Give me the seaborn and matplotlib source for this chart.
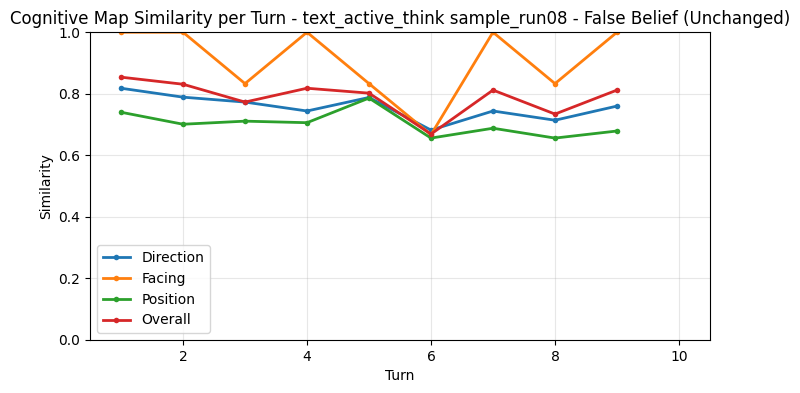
import matplotlib
matplotlib.use("Agg")
import matplotlib.pyplot as plt
import numpy as np
import pandas as pd
import seaborn as sns

# Data
turns = [1, 2, 3, 4, 5, 6, 7, 8, 9]
direction = [0.818, 0.789, 0.773, 0.744, 0.788, 0.682, 0.744, 0.714, 0.760]
facing = [1.0, 1.0, 0.833, 1.0, 0.833, 0.667, 1.0, 0.833, 1.0]
position = [0.740, 0.701, 0.711, 0.706, 0.786, 0.656, 0.688, 0.656, 0.679]
overall = [0.854, 0.831, 0.773, 0.818, 0.802, 0.669, 0.812, 0.734, 0.812]

series = {"Direction": direction, "Facing": facing, "Position": position, "Overall": overall}
df = pd.DataFrame([
    {"Turn": t, "Similarity": v, "Metric": name}
    for name, vals in series.items()
    for t, v in zip(turns, vals)
])

fig, ax = plt.subplots(figsize=(8, 3.93), dpi=100)
fig.subplots_adjust(left=0.1125, right=0.8875, top=0.918, bottom=0.135)

sns.lineplot(data=df, x="Turn", y="Similarity", hue="Metric",
             palette=["#1f77b4", "#ff7f0e", "#2ca02c", "#d62728"],
             marker="o", markersize=4, markeredgewidth=0, linewidth=2, ax=ax)

ax.set_xlim(0.5, 10.5)
ax.set_ylim(0, 1)
ax.set_xticks([2, 4, 6, 8, 10])
ax.grid(True, alpha=0.3)
ax.set_xlabel("Turn")
ax.set_ylabel("Similarity")
ax.set_title("Cognitive Map Similarity per Turn - text_active_think sample_run08 - False Belief (Unchanged)")
ax.legend(loc="lower left")

fig.savefig("out.png", dpi=100)
